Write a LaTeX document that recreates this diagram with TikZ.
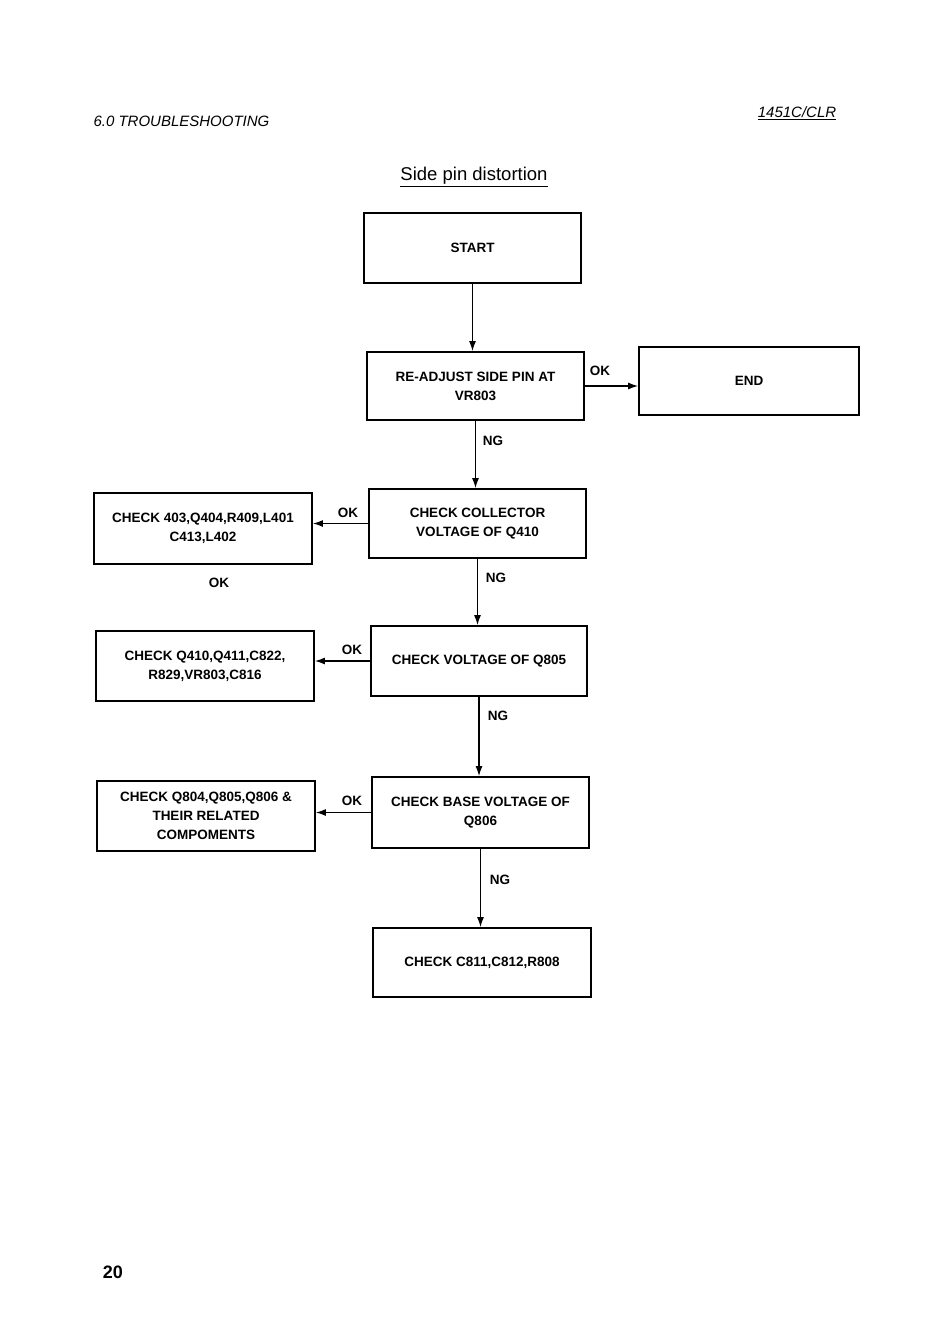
\documentclass[tikz,border=0pt]{standalone}
\usepackage{fontspec}
\setmainfont{Liberation Sans}
\usetikzlibrary{arrows.meta}
\begin{document}
\begin{tikzpicture}[x=1pt,y=-1pt,
  box/.style={draw,line width=1.8pt,align=center,font=\bfseries\fontsize{13.5}{19}\selectfont,inner sep=0pt},
  arr/.style={line width=1.3pt,-{Latex[length=10pt,width=7pt]}},
  lbl/.style={font=\bfseries\fontsize{13.5}{15}\selectfont,inner sep=0pt}]
\useasboundingbox[fill=white] (0,0) rectangle (950,1343);
% header
\node[font=\itshape\fontsize{15}{18}\selectfont,anchor=west] (hdr) at (90,121) {6.0 TROUBLESHOOTING};
\node[font=\itshape\fontsize{15}{18}\selectfont] (model) at (797,113) {\underline{1451C/CLR}};
\node[font=\fontsize{18.5}{22}\selectfont] (title) at (474,177) {\underline{Side pin distortion}};
\node[font=\bfseries\fontsize{18}{22}\selectfont] (page) at (113,1272) {20};
% boxes
\node[box,minimum width=217,minimum height=70] (start) at (472.5,248) {START};
\node[box,minimum width=217,minimum height=68] (readj) at (475.5,386) {RE-ADJUST SIDE PIN AT\\VR803};
\node[box,minimum width=220,minimum height=68] (end) at (749,381) {END};
\node[box,minimum width=217,minimum height=69] (coll) at (477.5,523.5) {CHECK COLLECTOR\\VOLTAGE OF Q410};
\node[box,minimum width=218,minimum height=71] (c403) at (203,528.5) {CHECK 403,Q404,R409,L401\\C413,L402};
\node[box,minimum width=216,minimum height=70] (v805) at (479,661) {CHECK VOLTAGE OF Q805};
\node[box,minimum width=218,minimum height=70] (c410) at (205,666) {CHECK Q410,Q411,C822,\\R829,VR803,C816};
\node[box,minimum width=217,minimum height=71] (base) at (480.5,812.5) {CHECK BASE VOLTAGE OF\\Q806};
\node[box,minimum width=218,minimum height=70] (c804) at (206,816) {CHECK Q804,Q805,Q806 \&\\THEIR RELATED\\COMPOMENTS};
\node[box,minimum width=218,minimum height=69] (c811) at (482,962.5) {CHECK C811,C812,R808};
% connectors
\draw[arr] (start.south) -- (start.south |- readj.north);
\draw[arr] (readj.east) -- (readj.east -| end.west);
\draw[arr] (readj.south) -- (readj.south |- coll.north);
\draw[arr] (coll.west) -- (coll.west -| c403.east);
\draw[arr] (coll.south) -- (coll.south |- v805.north);
\draw[arr] (v805.west) -- (v805.west -| c410.east);
\draw[arr] (v805.south) -- (v805.south |- base.north);
\draw[arr] (base.west) -- (base.west -| c804.east);
\draw[arr] (base.south) -- (base.south |- c811.north);
% labels
\node[lbl] (ok1) at (600,371) {OK};
\node[lbl] (ng1) at (493,441) {NG};
\node[lbl] (ok2) at (348,513) {OK};
\node[lbl] (ok3) at (219,583) {OK};
\node[lbl] (ng2) at (496,578) {NG};
\node[lbl] (ok4) at (352,650) {OK};
\node[lbl] (ng3) at (498,716) {NG};
\node[lbl] (ok5) at (352,801) {OK};
\node[lbl] (ng4) at (500,880) {NG};
\end{tikzpicture}
\end{document}
